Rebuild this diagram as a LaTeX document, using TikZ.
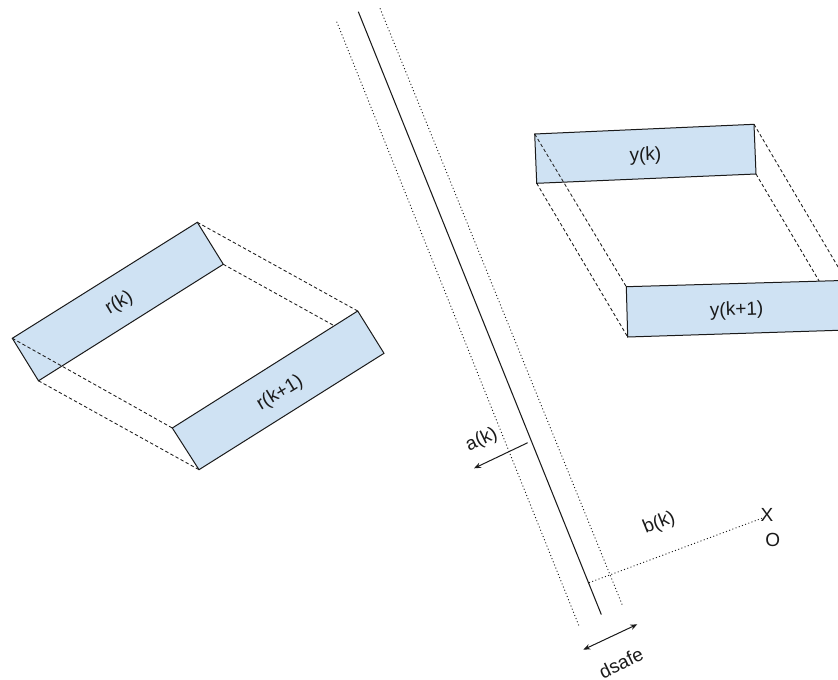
\documentclass[tikz,border=0pt]{standalone}
\usepackage{fontspec}
\setmainfont{Liberation Sans}
\usetikzlibrary{arrows.meta}
\definecolor{boxblue}{HTML}{CFE2F3}
\definecolor{ink}{HTML}{1A1A1A}
\tikzset{
  boxface/.style={draw=ink,fill=boxblue,line width=1pt,line join=miter},
  travel/.style={draw=ink,line width=0.85pt,dash pattern=on 3.4pt off 2.4pt},
  road/.style={draw=ink,line width=1.05pt},
  bound/.style={draw=ink,line width=0.9pt,dash pattern=on 1pt off 2.4pt},
  arrowline/.style={draw=ink,line width=1pt,-{Stealth[length=7pt,width=5.5pt]}},
  arrowboth/.style={draw=ink,line width=1pt,{Stealth[length=7pt,width=5.5pt]}-{Stealth[length=7pt,width=5.5pt]}},
  lbl/.style={font=\fontsize{19}{21}\selectfont,text=ink,inner sep=0pt}
}
\begin{document}
\begin{tikzpicture}[x=1pt,y=-1pt]
\useasboundingbox (0,0) rectangle (838,680);
\clip (0,0) rectangle (838,680);
% r(k) corners
\coordinate (ra) at (197.3,222.3);
\coordinate (rb) at (223.3,264.3);
\coordinate (rc) at (38.5,380.8);
\coordinate (rd) at (12.3,338.3);
% r(k+1) corners
\coordinate (sa) at (357.7,311);
\coordinate (sb) at (384,353.3);
\coordinate (sc) at (199,469.7);
\coordinate (sd) at (172.3,428);
% y(k) corners
\coordinate (ya) at (534.7,134);
\coordinate (yb) at (754,124.3);
\coordinate (yc) at (756,174);
\coordinate (yd) at (536.7,183.3);
% y(k+1) corners
\coordinate (za) at (626.3,286.7);
\coordinate (zb) at (846,280.4);
\coordinate (zc) at (848,330);
\coordinate (zd) at (627.7,337);
% lines
\coordinate (m1) at (358.3,11.7);
\coordinate (m2) at (601.3,614.5);
\coordinate (l1) at (336.7,21.7);
\coordinate (l2) at (579.3,626.7);
\coordinate (q1) at (380,8.3);
\coordinate (q2) at (622.3,605);
\coordinate (a1) at (527.7,442.7);
\coordinate (a2) at (474,468.3);
\coordinate (b1) at (589,582.7);
\coordinate (b2) at (761.7,518.3);
\coordinate (d1) at (583.3,649.7);
\coordinate (d2) at (637.3,624.3);

\path[boxface] (ra)--(rb)--(rc)--(rd)--cycle;
\path[boxface] (ya)--(yb)--(yc)--(yd)--cycle;
\draw[travel] (ra)--(sa);
\draw[travel] (rb)--(sb);
\draw[travel] (rc)--(sc);
\draw[travel] (rd)--(sd);
\draw[travel] (ya)--(za);
\draw[travel] (yb)--(zb);
\draw[travel] (yc)--(zc);
\draw[travel] (yd)--(zd);
\path[boxface] (sa)--(sb)--(sc)--(sd)--cycle;
\path[boxface] (za)--(zb)--(zc)--(zd)--cycle;

\draw[road] (m1)--(m2);
\draw[bound] (l1)--(l2);
\draw[bound] (q1)--(q2);
\draw[bound] (b1)--(b2);
\draw[arrowline] (a1)--(a2);
\draw[arrowboth] (d1)--(d2);

\node[lbl,rotate=31] (rk) at (119.3,303.3) {r(k)};
\node[lbl,rotate=31] (rk1) at (280,393.3) {r(k+1)};
\node[lbl,rotate=2] (yk) at (645.5,156) {y(k)};
\node[lbl,rotate=2] (yk1) at (736.7,310.5) {y(k+1)};
\node[lbl,rotate=26] (ak) at (481.7,440) {a(k)};
\node[lbl,rotate=22] (bk) at (659.3,523.3) {b(k)};
\node[lbl,rotate=26] (ds) at (621,663) {dsafe};
\node[lbl] (x) at (767,515.3) {X};
\node[lbl] (o) at (772.7,540.3) {O};
\end{tikzpicture}
\end{document}
